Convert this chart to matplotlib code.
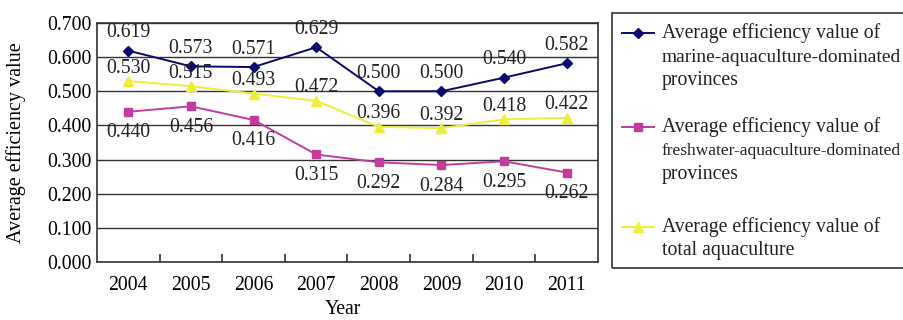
import matplotlib
matplotlib.use("Agg")
import matplotlib.pyplot as plt
from matplotlib.lines import Line2D
from matplotlib.patches import Rectangle
import numpy as np

years = ["2004", "2005", "2006", "2007", "2008", "2009", "2010", "2011"]
marine = [0.619, 0.573, 0.571, 0.629, 0.500, 0.500, 0.540, 0.582]
fresh = [0.440, 0.456, 0.416, 0.315, 0.292, 0.284, 0.295, 0.262]
total = [0.530, 0.515, 0.493, 0.472, 0.396, 0.392, 0.418, 0.422]
labels = [
    ["Average efficiency value of", "marine-aquaculture-dominated", "provinces"],
    ["Average efficiency value of", "freshwater-aquaculture-dominated", "provinces"],
    ["Average efficiency value of", "total aquaculture"],
]

plt.rcParams['font.family'] = ['Liberation Serif', 'DejaVu Serif']
FS = 14.2

W, H = 904, 320
fig = plt.figure(figsize=(W / 100, H / 100), dpi=100)
ax = fig.add_axes([97 / W, (H - 262) / H, 501 / W, 239 / H])

x = np.arange(len(years))
c_marine = "#0a0a6e"
c_fresh = "#c23c9c"
c_total = "#eeee3a"

series = [
    (marine, c_marine, "D", 5.5, 18),
    (fresh, c_fresh, "s", 6, -21),
    (total, c_total, "^", 6.5, 13),
]
for vals, col, mk, ms, off in series:
    ax.plot(x, vals, color=col, marker=mk, markersize=ms, linewidth=1.4,
            markeredgecolor=col, zorder=3)
    for xi, v in zip(x, vals):
        ax.annotate(f"{v:.3f}", (xi, v), xytext=(0, off), textcoords="offset pixels",
                    ha="center", va="center", fontsize=FS, color="#222222", zorder=4)

ax.set_xlim(-0.5, len(years) - 0.5)
ax.set_ylim(0, 0.7)
ax.set_yticks(np.arange(0, 0.701, 0.1))
ax.set_yticklabels([f"{v:.3f}" for v in np.arange(0, 0.701, 0.1)], fontsize=FS)
ax.set_xticks(x)
ax.set_xticklabels(years, fontsize=FS)
ax.set_xticks(np.arange(0.5, len(years) - 1, 1), minor=True)
ax.tick_params(axis="x", which="major", length=0, pad=10)
ax.tick_params(axis="x", which="minor", direction="in", length=6, width=1.2, color="#333333")
ax.tick_params(axis="y", length=0, pad=4)
ax.yaxis.grid(True, color="#333333", linewidth=1.0)
ax.set_axisbelow(True)
for s in ax.spines.values():
    s.set_color("#333333")
    s.set_linewidth(1.2)
ax.set_ylabel("Average efficiency value", fontsize=14.5)
ax.yaxis.set_label_coords(-71 / 501, 0.5)
ax.set_xlabel("Year", fontsize=FS)
ax.xaxis.set_label_coords(0.49, -(309 - 262) / 239)
ax.xaxis.label.set_va("center")

# manual legend
fig.patches.append(Rectangle((612 / W, 1 - 268 / H), (W + 10 - 612) / W, (268 - 13) / H,
                             transform=fig.transFigure, fill=False, edgecolor="#333333",
                             linewidth=1.2))
line_ys = [[33, 57, 80], [127, 151, 174], [227, 250]]
renderer = fig.canvas.get_renderer()
max_w = 240
for (vals, col, mk, ms, off), lab, ys in zip(series, labels, line_ys):
    fy = 1 - ys[0] / H
    fig.add_artist(Line2D([622 / W, 654 / W], [fy, fy], transform=fig.transFigure,
                          color=col, linewidth=1.4))
    fig.add_artist(Line2D([638 / W], [fy], transform=fig.transFigure, color=col,
                          marker=mk, markersize=ms, markeredgecolor=col))
    for line, yy in zip(lab, ys):
        t = fig.text(662 / W, 1 - yy / H, line, fontsize=FS, va="center", ha="left",
                     color="#222222")
        w = t.get_window_extent(renderer).width
        if w > max_w:
            t.set_fontsize(FS * max_w / w)

fig.savefig("out.png", dpi=100)
